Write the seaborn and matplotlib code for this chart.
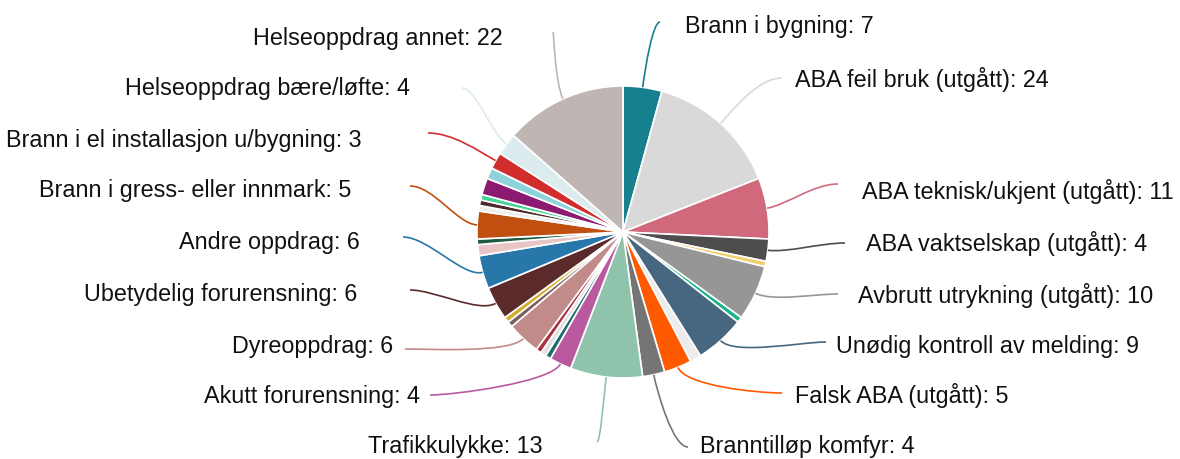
# pie of incident types with curved label connectors

import matplotlib.pyplot as plt
from matplotlib.path import Path
import matplotlib.patches as mpatches
import numpy as np
import seaborn as sns

# slices clockwise from 12 o'clock, "" = small unlabeled slice
categories = [
    "Brann i bygning", "ABA feil bruk (utgått)", "ABA teknisk/ukjent (utgått)",
    "ABA vaktselskap (utgått)", "", "Avbrutt utrykning (utgått)", "",
    "Unødig kontroll av melding", "", "Falsk ABA (utgått)", "Branntilløp komfyr",
    "Trafikkulykke", "Akutt forurensning", "", "", "", "Dyreoppdrag", "", "",
    "Ubetydelig forurensning", "Andre oppdrag", "", "", "Brann i gress- eller innmark",
    "", "", "", "", "", "Brann i el installasjon u/bygning", "Helseoppdrag bære/løfte",
    "Helseoppdrag annet",
]
counts = [7, 24, 11, 4, 1, 10, 1, 9, 2, 5, 4, 13, 4, 1, 1, 1, 6, 1, 1,
          6, 6, 2, 1, 5, 1, 1, 1, 3, 2, 3, 4, 22]
colors = [
    "#17808f", "#d9d9d9", "#d0697c", "#4d4d4d", "#f2cf6d", "#969696", "#1bb38a",
    "#46677f", "#ececec", "#ff5a00", "#757575", "#8fc3ab", "#b95aa0", "#1c6b6e",
    "#e0e0e0", "#a63240", "#c08b88", "#7a6060", "#d6ad2b", "#5b2b2b", "#2777aa",
    "#e8c6c8", "#1f5a40", "#c04f10", "#eeeeee", "#4a2a2a", "#44d494", "#8b1a70",
    "#8ed2da", "#d22d2d", "#dcecee", "#bfb6b3",
]

# layout for the labeled slices (pixel coords): text anchor, alignment, connector end
label_xy = [(685, 27), (795, 80), (862, 191), (866, 243), (858, 295), (836, 346),
            (795, 396), (700, 446), (542, 446), (420, 396), (393, 346), (357, 295),
            (360, 243), (351, 191), (361, 140), (410, 89), (503, 38)]
label_ha = ["left"] * 8 + ["right"] * 9
conn_end = [(660, 22), (782, 78), (838, 184), (845, 243), (838, 294), (826, 342),
            (782, 393), (688, 447), (597, 442), (430, 395), (405, 349), (410, 290),
            (403, 237), (410, 186), (428, 133), (462, 88), (553, 32)]

cx, cy, r = 623, 232, 146

sns.set_theme(style="white")
plt.rcParams['font.family'] = ['Liberation Sans', 'DejaVu Sans']

fig = plt.figure(figsize=(11.8, 4.59), dpi=100)
ax = fig.add_axes([0, 0, 1, 1])

# y axis is inverted, so counterclock in data = clockwise on screen
wedges, _ = ax.pie(counts, colors=colors, startangle=-90, counterclock=True,
                   radius=r, center=(cx, cy),
                   wedgeprops=dict(edgecolor="white", linewidth=1.2))
ax.set_xlim(0, 1180)
ax.set_ylim(459, 0)
ax.axis("off")

k = 0
for w, name, n, col in zip(wedges, categories, counts, colors):
    if not name:
        continue
    mid = np.radians((w.theta1 + w.theta2) / 2)
    d = np.array([np.cos(mid), np.sin(mid)])
    p0 = np.array([cx, cy]) + r * d
    p1 = np.array([cx, cy]) + (r + 20) * d
    ex, ey = conn_end[k]
    side = 1 if label_ha[k] == "left" else -1
    p2 = (ex - side * min(25, abs(ex - p1[0]) * 0.5), ey)
    path = Path([p0, p1, p2, (ex, ey)],
                [Path.MOVETO, Path.CURVE4, Path.CURVE4, Path.CURVE4])
    ax.add_patch(mpatches.PathPatch(path, fill=False, edgecolor=col, lw=1.2))

    tx, ty = label_xy[k]
    ax.text(tx, ty, f"{name}: {n}", ha=label_ha[k], va="center",
            fontsize=16.8, color="#111111")
    k += 1

fig.savefig("out.png", dpi=100)
